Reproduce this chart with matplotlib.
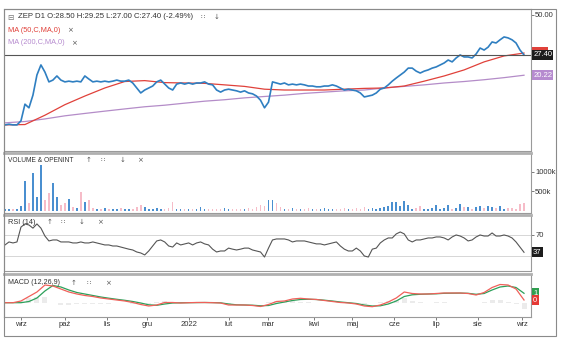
import numpy as np
import pandas as pd
import matplotlib
matplotlib.use("Agg")
import matplotlib.pyplot as plt
from matplotlib.ticker import NullLocator

# ZEP daily, every 2nd session (price / volume / RSI), MAs every 10th, MACD every 4th
closes = [9.6, 9.7, 9.6, 9.6, 10.2, 13.1, 12.4, 15.0, 20.3, 23.6,
          21.2, 18.3, 18.8, 20.0, 18.8, 18.3, 18.5, 18.3, 18.5, 18.3,
          20.0, 19.1, 18.3, 18.5, 18.3, 18.5, 18.3, 18.5, 18.8, 18.5,
          18.5, 18.8, 18.0, 16.7, 15.5, 16.2, 16.7, 17.2, 18.3, 18.8,
          17.7, 16.7, 16.2, 17.7, 18.0, 17.7, 18.0, 17.7, 18.0, 18.0,
          18.3, 17.7, 17.5, 16.2, 15.7, 16.2, 16.4, 16.2, 16.0, 15.7,
          16.0, 15.5, 15.3, 14.8, 13.9, 12.4, 13.5, 18.3, 18.0, 17.7,
          18.0, 17.5, 17.7, 17.5, 17.7, 17.5, 17.2, 17.2, 17.0, 17.0,
          17.2, 17.2, 17.5, 17.2, 16.7, 16.2, 16.4, 16.2, 16.0, 15.5,
          14.6, 14.8, 15.0, 15.5, 16.4, 16.7, 17.5, 18.5, 19.4, 20.3,
          21.2, 22.5, 22.5, 21.5, 20.9, 21.5, 21.9, 22.5, 22.9, 23.6,
          24.3, 25.4, 24.7, 26.2, 27.4, 26.6, 26.6, 26.2, 27.8, 30.4,
          29.5, 30.8, 33.3, 32.8, 34.4, 35.9, 35.4, 34.4, 32.8, 29.5,
          27.4]
ma50 = [9.6, 9.65, 11.1, 13.0, 14.8, 16.7, 18.4, 18.65, 18.1, 18.0, 17.9, 17.5, 17.1, 16.4,
        16.2, 16.2, 16.2, 16.4, 16.6, 16.7, 17.2, 18.5, 20.0, 21.9, 24.7, 27.0, 28.2]
ma200 = [9.9, 10.1, 10.5, 11.0, 11.4, 11.8, 12.2, 12.6, 12.9, 13.3, 13.7, 14.0, 14.4, 14.7,
         15.0, 15.4, 15.7, 16.0, 16.2, 16.7, 17.1, 17.5, 18.0, 18.4, 18.9, 19.5, 20.22]
volume_k = [60, 40, 50, 40, 120, 770, 200, 970, 350, 1180,
            280, 460, 720, 360, 150, 200, 310, 100, 80, 490,
            230, 280, 70, 60, 50, 80, 40, 60, 50, 70,
            40, 60, 50, 90, 150, 100, 60, 50, 70, 60,
            50, 80, 220, 60, 50, 60, 40, 60, 50, 90,
            60, 40, 50, 60, 50, 70, 40, 60, 50, 60,
            50, 80, 60, 90, 150, 130, 280, 280, 200, 100,
            60, 50, 70, 40, 60, 50, 80, 40, 60, 50,
            70, 60, 50, 40, 60, 80, 50, 60, 70, 50,
            90, 60, 80, 60, 70, 100, 130, 230, 230, 130,
            250, 150, 60, 80, 130, 60, 50, 70, 150, 60,
            80, 150, 60, 80, 180, 90, 100, 60, 110, 120,
            70, 130, 90, 80, 120, 60, 70, 80, 60, 190,
            200]
rsi = [51, 56.7, 54.8, 56.7, 85, 91, 89, 83, 91, 83,
       68, 58.6, 60.5, 60.5, 56.7, 56.7, 56.7, 54.8, 54.8, 56.7,
       54.8, 54.8, 56.7, 54.8, 53, 51, 51, 49, 49, 47,
       45, 43, 41.4, 37.6, 35.7, 32, 39.5, 49, 58.6, 60.5,
       56.7, 49, 47, 54.8, 51, 53, 54.8, 51, 54.8, 56.7,
       53, 51, 43, 37.6, 39.5, 39.5, 45, 43, 41.4, 43,
       45, 45, 41.4, 39.5, 37.6, 28, 45, 60.5, 62.4, 62.4,
       62.4, 60.5, 56.7, 58.6, 58.6, 58.6, 56.7, 54.8, 53, 53,
       51, 53, 54.8, 56.7, 49, 43, 39.5, 39.5, 45, 39.5,
       30, 28, 43, 45, 54.8, 60.5, 64.3, 64.3, 72, 75.7,
       72, 60.5, 56.7, 60.5, 60.5, 62.4, 64.3, 64.3, 66.2, 66.2,
       64.3, 60.5, 66.2, 70, 68, 64.3, 58.6, 60.5, 66.2, 70,
       68, 68, 73.8, 68, 68, 70, 68, 64.3, 56.7, 47,
       37]
macd = [0, 0, 0.17, 0.62, 1.07, 1.77, 1.67, 1.37, 1.07, 0.87,
        0.72, 0.62, 0.47, 0.37, 0.27, 0.17, 0.02, -0.18, -0.33, -0.23,
        0.02, 0.02, -0.03, 0, 0.02, 0.02, 0, -0.03, -0.23, -0.23,
        -0.23, -0.28, -0.38, -0.18, 0.12, 0.17, 0.37, 0.44, 0.37, 0.32,
        0.22, 0.12, 0.02, -0.03, -0.13, -0.33, -0.40, -0.23, 0.07, 0.47,
        1.07, 0.92, 0.87, 0.87, 0.92, 0.97, 0.97, 0.97, 0.92, 0.77,
        1.02, 1.52, 1.82, 1.77, 1.37, 0.27]
signal = [0, 0, 0, 0.12, 0.47, 1.17, 1.72, 1.57, 1.27, 1.02,
          0.87, 0.72, 0.57, 0.45, 0.34, 0.24, 0.12, -0.03, -0.21, -0.26,
          -0.13, -0.03, -0.01, 0, 0.01, 0.02, 0.01, -0.01, -0.13, -0.21,
          -0.23, -0.25, -0.31, -0.28, -0.08, 0.07, 0.22, 0.32, 0.34, 0.32,
          0.25, 0.17, 0.07, 0, -0.08, -0.23, -0.33, -0.31, -0.13, 0.17,
          0.62, 0.79, 0.84, 0.87, 0.89, 0.94, 0.95, 0.96, 0.94, 0.84,
          0.92, 1.27, 1.57, 1.67, 1.52, 0.94]

# GPW sessions (weekdays minus exchange holidays)
holidays = ["2021-11-01", "2021-11-11", "2021-12-24", "2021-12-31", "2022-01-06",
            "2022-04-15", "2022-04-18", "2022-05-03", "2022-06-16", "2022-08-15"]
sessions = pd.bdate_range("2021-08-20", "2022-09-02", freq="C", holidays=holidays)
month_names = ["2022", "lut", "mar", "kwi", "maj", "cze", "lip", "sie", "wrz", "paź", "lis", "gru"]

x_day = np.arange(0, len(sessions), 2)[:len(closes)]
x_ma = np.arange(0, len(sessions), 10)[:len(ma50)]
x_macd = np.arange(0, len(sessions), 4)[:len(macd)]
month_pos = [i for i in range(1, len(sessions)) if sessions[i].month != sessions[i - 1].month]
month_lbl = [month_names[sessions[i].month - 1] for i in month_pos]

W, H = 564, 348
plt.rcParams["font.family"] = ["Liberation Sans", "DejaVu Sans"]
fig = plt.figure(figsize=(W / 100, H / 100), dpi=100)


def box(x0, y0, x1, y1):
    return [x0 / W, 1 - y1 / H, (x1 - x0) / W, (y1 - y0) / H]


def ftext(x, y, s, color="#333333", size=5.5, family="Liberation Sans"):
    fig.text(x / W, 1 - y / H, s, ha="left", va="center", fontsize=size, color=color, family=family)


def header(x, y, title, icons, color="#333333", size=5.5):
    ftext(x, y, title, color, size)
    for ix, s in icons:
        ftext(ix, y, s, "#555555", 5.0, "DejaVu Sans")


def style(ax, sep=False):
    for s in ax.spines.values():
        s.set_color("#9a9a9a")
        s.set_linewidth(0.8)
    if sep:
        ax.spines["top"].set_linewidth(2.0)
        ax.spines["top"].set_color("#b0b0b0")
    ax.set_xlim(-0.5, 263.5)
    ax.tick_params(left=False, labelleft=False, bottom=False, labelbottom=False,
                   right=True, labelright=True, length=2, width=0.6, color="#666666",
                   labelsize=5.5, labelcolor="#333333", pad=1)


def tag(ax, y, s, bg):
    ax.text(1.004, y, s, transform=ax.get_yaxis_transform(), ha="left", va="center",
            fontsize=5.5, color="white", bbox=dict(boxstyle="square,pad=0.18", fc=bg, ec="none"))


# price panel
ax_p = fig.add_axes(box(4, 9, 531, 151))
style(ax_p)
ax_p.set_yscale("log")
ax_p.set_ylim(6.49, 54.6)
ax_p.yaxis.set_minor_locator(NullLocator())
ax_p.set_yticks([50])
ax_p.set_yticklabels(["50.00"])
ax_p.plot(x_ma, ma200, color="#b48cc8", lw=0.9)
ax_p.plot(x_ma, ma50, color="#e0413a", lw=0.9)
ax_p.plot(x_day, closes, color="#2f7fc1", lw=1.2)
ax_p.axhline(closes[-1], color="#555555", lw=0.8)
# MA50 marker sits under the last-price tag, only its top edge shows
ax_p.add_patch(plt.Rectangle((1.0, 0.675), 0.032, 0.06, transform=ax_p.transAxes,
                             fc="#e0413a", ec="none", clip_on=False))
tag(ax_p, closes[-1], "%.2f" % closes[-1], "#1c1c1c")
tag(ax_p, ma200[-1], "%.2f" % ma200[-1], "#b68bcf")

# volume panel
ax_v = fig.add_axes(box(4, 153, 531, 213), sharex=ax_p)
style(ax_v, sep=True)
up = np.r_[True, np.diff(closes) >= 0]
ax_v.bar(x_day, volume_k, width=0.8, color=np.where(up, "#4a8fd0", "#f6bcc8"))
ax_v.set_ylim(-50, 1475)
ax_v.set_yticks([500, 1000])
ax_v.set_yticklabels(["500k", "1000k"])

# RSI panel
ax_r = fig.add_axes(box(4, 215, 531, 271), sharex=ax_p)
style(ax_r, sep=True)
ax_r.set_ylim(1.4, 108)
for lvl in (70, 30):
    ax_r.axhline(lvl, color="#d6d6d6", lw=0.7)
ax_r.plot(x_day, rsi, color="#555555", lw=0.8)
ax_r.set_yticks([70])
ax_r.set_yticklabels(["70"])
tag(ax_r, rsi[-1], "%d" % rsi[-1], "#1c1c1c")

# MACD panel
ax_m = fig.add_axes(box(4, 274, 531, 317), sharex=ax_p)
style(ax_m, sep=True)
ax_m.set_ylim(-1.43, 2.87)
hist = np.array(macd) - np.array(signal)
ax_m.bar(x_macd, hist, width=2.5, color="#ebebeb")
ax_m.plot(x_macd, signal, color="#2ca05a", lw=0.9)
ax_m.plot(x_macd, macd, color="#f0605a", lw=0.9)
ax_m.tick_params(right=False, labelright=False, bottom=True, labelbottom=True)
ax_m.set_xticks(month_pos)
ax_m.set_xticklabels(month_lbl)
tag(ax_m, signal[-1], "1", "#2e9e4f")
tag(ax_m, macd[-1], "0", "#e53935")

# outer frame
fig.add_artist(plt.Rectangle((4 / W, 1 - 336 / H), 552 / W, 327 / H, transform=fig.transFigure,
                             fill=False, ec="#8a8a8a", lw=0.8))

# panel headers
ftext(7, 17, "⊟", "#777777", 5.5, "DejaVu Sans")
header(18, 17, "ZEP D1 O:28.50 H:29.25 L:27.00 C:27.40 (-2.49%)", [(201, "∷"), (214, "↓")], size=5.6)
header(8, 30, "MA (50,C,MA,0)", [(67, "×")], color="#e0413a", size=5.3)
header(8, 43, "MA (200,C,MA,0)", [(71, "×")], color="#b68bcf", size=5.3)
header(8, 160, "VOLUME & OPENINT", [(86, "↑"), (101, "∷"), (120, "↓"), (137, "×")], size=4.8)
header(8, 222, "RSI (14)", [(47, "↑"), (61, "∷"), (79, "↓"), (97, "×")], size=5.3)
header(8, 283, "MACD (12,26,9)", [(71, "↑"), (87, "∷"), (105, "×")], size=5.1)

fig.savefig("out.png", dpi=100)
